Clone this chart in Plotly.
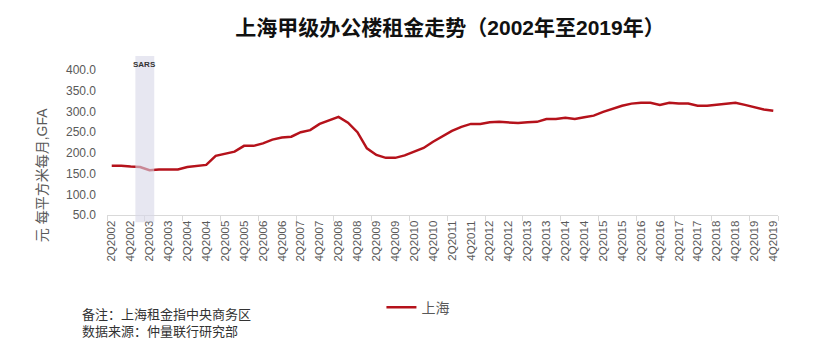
import plotly.graph_objects as go

quarters = []
for yr in range(2002, 2020):
    for q in range(1, 5):
        if yr == 2002 and q == 1:
            continue
        quarters.append(f"{q}Q{yr}")

rent = [169, 169, 167, 166, 158, 160, 160, 160, 166, 169, 171,
        193, 198, 203, 217, 217, 223, 232, 237, 239, 250, 255, 270, 278,
        287, 273, 250, 211, 195, 188, 188, 194, 203, 212, 227,
        241, 253, 263, 270, 270, 274, 275, 274, 272, 274, 275, 282, 282,
        285, 282, 286, 290, 299, 306, 314, 319, 321, 321, 316, 321, 319,
        319, 314, 314, 316, 319, 321, 316, 311, 305, 302]

sars_start = "1Q2003"
sars_end = "2Q2003"

series_name = "上海"
title = "上海甲级办公楼租金走势（2002年至2019年）"
y_title = "元 每平方米每月,GFA"
notes = ["备注：上海租金指中央商务区", "数据来源：仲量联行研究部"]
y_ticks = [50, 100, 150, 200, 250, 300, 350, 400]

x = list(range(len(quarters)))
label_idx = [i for i in x if i % 2 == 0]

FONT = "Liberation Sans, Noto Sans CJK SC, sans-serif"
GRAY = "#595959"

fig = go.Figure()
fig.add_trace(go.Scatter(
    x=x, y=rent, mode="lines", name=series_name,
    line=dict(color="#B5121B", width=2.5),
))

i0 = quarters.index(sars_start)
i1 = quarters.index(sars_end)
fig.add_shape(type="rect", xref="x", yref="paper",
              x0=i0 - 0.5, x1=i1 + 0.5, y0=-0.045, y1=1.0,
              fillcolor="rgba(215,215,232,0.6)", line_width=0, layer="above")
fig.add_annotation(xref="x", yref="paper", x=(i0 + i1) / 2, y=0.985,
                   text="<b>SARS</b>", showarrow=False, yanchor="top",
                   font=dict(size=8, color="#333333", family=FONT))

fig.add_annotation(xref="paper", yref="paper", x=-0.097, y=0.25,
                   text=y_title, textangle=-90, showarrow=False,
                   xanchor="center", yanchor="middle",
                   font=dict(size=14, color=GRAY, family=FONT))

fig.add_annotation(xref="paper", yref="paper", x=-0.04, y=-0.567,
                   text="<br>".join(notes), showarrow=False, align="left",
                   xanchor="left", yanchor="top",
                   font=dict(size=13, color="#333333", family=FONT))

# page body has an 8px default margin; compensate so the plot lands where the reference has it
fig.update_layout(
    width=823, height=358,
    margin=dict(l=99, r=53, t=48, b=151, autoexpand=False),
    paper_bgcolor="white", plot_bgcolor="white",
    title=dict(text=f"<b>{title}</b>", x=442 / 823, xanchor="center",
               y=1 - 20 / 358, yanchor="middle",
               font=dict(size=21, color="#111111", family=FONT)),
    showlegend=True,
    legend=dict(orientation="h", x=0.409, y=-0.482, xanchor="left", yanchor="top",
                font=dict(size=14, color=GRAY, family=FONT), itemwidth=30),
    font=dict(family=FONT, color=GRAY),
)

fig.update_xaxes(
    automargin=False,
    range=[-0.5, len(quarters) - 0.5],
    tickmode="array", tickvals=label_idx,
    ticktext=[quarters[i] for i in label_idx],
    tickangle=-90, ticks="", showgrid=False, zeroline=False,
    showline=True, linecolor="#d9d9d9", linewidth=1,
    tickfont=dict(size=11.5, color=GRAY, family=FONT),
    minor=dict(tickvals=[i - 0.5 for i in x if i % 4 == 0] + [len(quarters) - 0.5],
               ticks="outside", ticklen=5, tickcolor="#d9d9d9", showgrid=False),
)
fig.update_yaxes(
    automargin=False,
    range=[50, 434], tickmode="array", tickvals=y_ticks,
    ticktext=[f"{v:.1f}" for v in y_ticks],
    showgrid=False, zeroline=False, showline=False,
    ticklabelstandoff=10,
    tickfont=dict(size=12, color=GRAY, family=FONT),
)

fig.write_html("out.html")
